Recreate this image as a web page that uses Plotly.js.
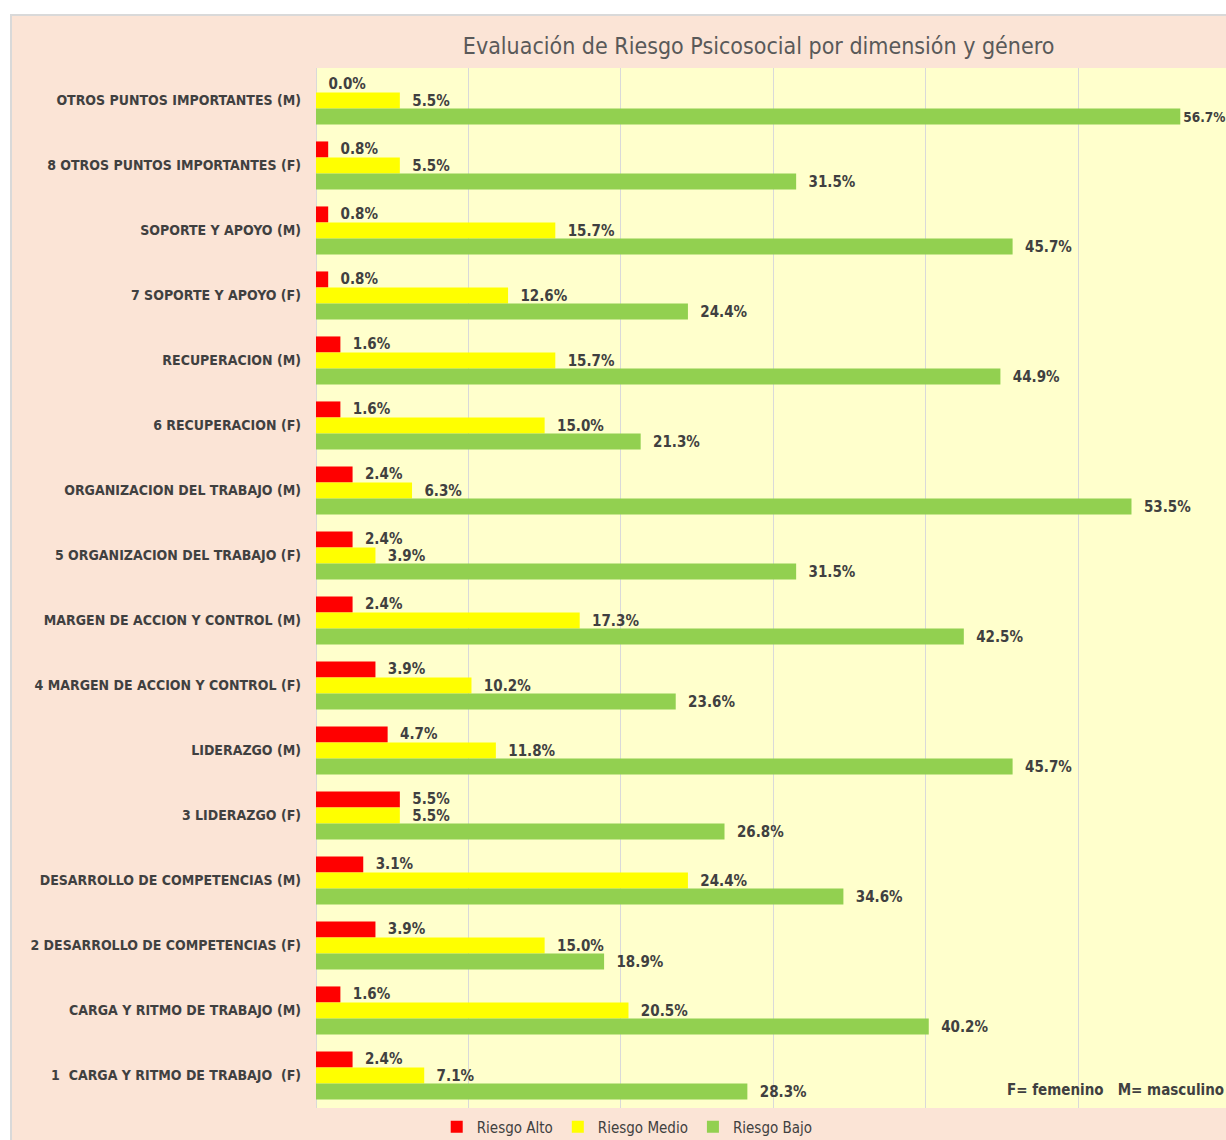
<!DOCTYPE html>
<html>
<head>
<meta charset="utf-8">
<script src="https://cdn.plot.ly/plotly-3.0.1.min.js"></script>
<style>
  html, body { margin: 0; padding: 0; background: #ffffff; }
  #frame { position: absolute; left: 10px; top: 14px; width: 1216px; height: 1126px; background: #d9d9d9; }
  #chart { position: absolute; left: 12px; top: 16px; width: 1214px; height: 1124px; }
</style>
</head>
<body>
<div id="frame"></div>
<div id="chart"></div>
<script>
// Categories listed top to bottom
const categories = [
  "OTROS PUNTOS IMPORTANTES (M)",
  "8 OTROS PUNTOS IMPORTANTES (F)",
  "SOPORTE Y APOYO (M)",
  "7 SOPORTE Y APOYO (F)",
  "RECUPERACION (M)",
  "6 RECUPERACION (F)",
  "ORGANIZACION DEL TRABAJO (M)",
  "5 ORGANIZACION DEL TRABAJO (F)",
  "MARGEN DE ACCION Y CONTROL (M)",
  "4 MARGEN DE ACCION Y CONTROL (F)",
  "LIDERAZGO (M)",
  "3 LIDERAZGO (F)",
  "DESARROLLO DE COMPETENCIAS (M)",
  "2 DESARROLLO DE COMPETENCIAS (F)",
  "CARGA Y RITMO DE TRABAJO (M)",
  "1  CARGA Y RITMO DE TRABAJO  (F)"
];
const riesgoAlto  = [0.0, 0.8, 0.8, 0.8, 1.6, 1.6, 2.4, 2.4, 2.4, 3.9, 4.7, 5.5, 3.1, 3.9, 1.6, 2.4];
const riesgoMedio = [5.5, 5.5, 15.7, 12.6, 15.7, 15.0, 6.3, 3.9, 17.3, 10.2, 11.8, 5.5, 24.4, 15.0, 20.5, 7.1];
const riesgoBajo  = [56.7, 31.5, 45.7, 24.4, 44.9, 21.3, 53.5, 31.5, 42.5, 23.6, 45.7, 26.8, 34.6, 18.9, 40.2, 28.3];
const seriesNames = ["Riesgo Alto", "Riesgo Medio", "Riesgo Bajo"];

const FONT = "'Liberation Sans Narrow', 'DejaVu Sans Condensed', 'Arial Narrow', sans-serif";
const colors = ["#ff0000", "#ffff00", "#92d050"];
const vals = [riesgoAlto, riesgoMedio, riesgoBajo];
const XMAX = 59.7;

const nearEdge = d => d > XMAX - 3.5;

const traces = vals.map((v, i) => ({
  type: "bar",
  orientation: "h",
  name: seriesNames[i],
  y: categories,
  x: v,
  marker: { color: colors[i] },
  // labels near the right edge get no leading padding and a slightly smaller size so they stay inside the frame
  text: v.map(d => (nearEdge(d) ? "" : "  ") + d.toFixed(1) + "%"),
  textposition: "outside",
  constraintext: "none",
  cliponaxis: false,
  textfont: { family: FONT, size: v.map(d => nearEdge(d) ? 13.5 : 15), color: "#404040", weight: "bold" },
  hoverinfo: "x+y"
}));

const layout = {
  width: 1214,
  height: 1124,
  paper_bgcolor: "#fbe4d6",
  plot_bgcolor: "#ffffcc",
  margin: { l: 304, r: 0, t: 52, b: 32 },
  barmode: "group",
  bargap: 0.26,
  bargroupgap: 0,
  title: {
    text: "Evaluación de Riesgo Psicosocial por dimensión y género",
    font: { family: FONT, size: 23, color: "#595959" },
    x: 0.615, xanchor: "center",
    y: 0.973, yanchor: "middle"
  },
  xaxis: {
    range: [0, XMAX],
    dtick: 10,
    tick0: 0,
    showgrid: true,
    gridcolor: "#d9d9d9",
    gridwidth: 1,
    zeroline: true,
    zerolinecolor: "#d9d9d9",
    showticklabels: false,
    ticks: "",
    showline: false,
    fixedrange: true
  },
  yaxis: {
    type: "category",
    autorange: "reversed",
    ticks: "",
    showgrid: false,
    ticklabelstandoff: 14,
    tickfont: { family: FONT, size: 14, color: "#404040", weight: "bold" },
    automargin: false,
    fixedrange: true
  },
  showlegend: true,
  legend: {
    orientation: "h",
    x: 0.342, xanchor: "center",
    yref: "container", y: 0.0115, yanchor: "middle",
    bgcolor: "rgba(0,0,0,0)",
    font: { family: FONT, size: 15, color: "#404040" },
    itemwidth: 30,
    tracegroupgap: 0
  },
  annotations: [{
    xref: "paper", yref: "paper",
    x: 1.0, y: 0.0173, xanchor: "right", yanchor: "middle",
    text: "F= femenino&nbsp;&nbsp; M= masculino",
    showarrow: false,
    font: { family: FONT, size: 15, color: "#404040", weight: "bold" }
  }]
};

Plotly.newPlot("chart", traces, layout, { displayModeBar: false, staticPlot: true });
</script>
</body>
</html>
